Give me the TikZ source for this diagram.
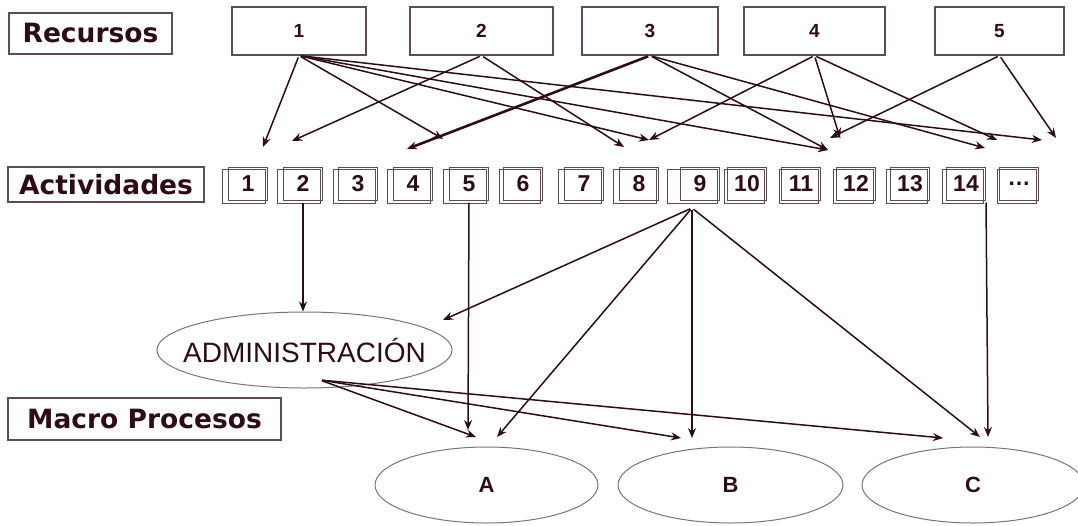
\documentclass[tikz,border=0pt]{standalone}
\usepackage{fontspec}
\setmainfont{Liberation Sans}
\newfontfamily\headfont{DejaVu Sans}
\usetikzlibrary{arrows.meta}
\usetikzlibrary{shapes.geometric}
\definecolor{ink}{RGB}{45,12,24}
\definecolor{frame}{RGB}{95,75,82}
\definecolor{ovalgray}{RGB}{125,115,118}

\begin{document}
\begin{tikzpicture}[x=1pt,y=-1pt,
link/.style={draw=ink,line width=1.5pt,shorten <=2pt,-{Stealth[length=10pt,width=8pt]}},
heavylink/.style={link,line width=2.6pt},
titlebox/.style={draw=frame,line width=1.2pt,inner sep=0pt,text=ink,
  font=\headfont\bfseries\fontsize{26.5}{30}\selectfont},
resbox/.style={draw=frame,line width=1.2pt,inner sep=0pt,minimum height=48pt,text=ink,
  font=\bfseries\fontsize{19}{21}\selectfont},
actbox/.style={draw=frame,line width=1pt,inner sep=0pt,minimum width=39pt,minimum height=33pt,
  text=ink,font=\bfseries\fontsize{23}{25}\selectfont},
procoval/.style={ellipse,draw=ovalgray,line width=1pt,inner sep=0pt,minimum height=76pt,text=ink}]
\useasboundingbox (0,0) rectangle (1078,525);
\clip (0,0) rectangle (1078,525);

% titles
\node[titlebox,minimum width=163pt,minimum height=41pt] (recursos) at (90.5,33.5) {Recursos};
\node[titlebox,minimum width=196pt,minimum height=35pt] (actividades) at (106,184.5) {Actividades};
\node[titlebox,minimum width=273pt,minimum height=42pt] (macro) at (144.5,419) {Macro Procesos};

% resources
\node[resbox,minimum width=134pt] (r1) at (299,31) {1};
\node[resbox,minimum width=143pt] (r2) at (481.5,31) {2};
\node[resbox,minimum width=136pt] (r3) at (650,31) {3};
\node[resbox,minimum width=141pt] (r4) at (814.5,31) {4};
\node[resbox,minimum width=129pt] (r5) at (999.5,31) {5};

% activities
\foreach \lab/\cx/\off [count=\i] in {1/248/6,2/303/6,3/358/5,4/413/6,5/469/6,6/523/4,7/584/6,
  8/639/6,9/700/13,10/747/3,11/801/2,12/856/3,13/910/4,14/966/4,{\ldots}/1019/2}{
  \draw[frame,line width=1pt] (\cx-19.5-\off,169) rectangle (\cx+17.5,203);
  \node[actbox] (a\i) at (\cx,183.5) {\lab};
}

% macro processes
\node[procoval,minimum width=291pt,inner xsep=-17pt,font=\fontsize{28}{32}\selectfont] (adm) at (304.5,350) {ADMINISTRACIÓN};
\node[procoval,minimum width=223pt,font=\bfseries\fontsize{22}{25}\selectfont] (pA) at (486.5,485) {A};
\node[procoval,minimum width=225pt,font=\bfseries\fontsize{22}{25}\selectfont] (pB) at (730.5,485) {B};
\node[procoval,minimum width=222pt,font=\bfseries\fontsize{22}{25}\selectfont] (pC) at (973,485) {C};

% arrow ends
\coordinate (t1) at (263,147);
\coordinate (t2) at (292,141);
\coordinate (t4) at (407,149);
\coordinate (t5) at (443,139);
\coordinate (t8a) at (624,147);
\coordinate (t8b) at (649,140);
\coordinate (t11a) at (828,150);
\coordinate (t11b) at (830,138);
\coordinate (t11c) at (840,138);
\coordinate (t14a) at (985,148);
\coordinate (t14b) at (997,140);
\coordinate (tea) at (1042,140);
\coordinate (teb) at (1056,138);
\coordinate (a9src) at (692,208);
\coordinate (admsrc) at (320,380);
\coordinate (enadm) at (443,320);
\coordinate (enA1) at (468,430);
\coordinate (enA2) at (476,437);
\coordinate (enA3) at (497,437);
\coordinate (enB1) at (681,438);
\coordinate (enB2) at (692,438);
\coordinate (enC1) at (943,438);
\coordinate (enC2) at (980,437);
\coordinate (enC3) at (988,437);

% resources to activities
\draw[link] (r1.south) -- (t1);
\draw[link] (r1.south) -- (t5);
\draw[link] (r1.south) -- (t8b);
\draw[link] (r1.south) -- (t11a);
\draw[link] (r1.south) -- (tea);
\draw[link] (r2.south) -- (t2);
\draw[link] (r2.south) -- (t8a);
\draw[heavylink] (r3.south) -- (t4);
\draw[link] (r3.south) -- (t11a);
\draw[link] (r3.south) -- (t14a);
\draw[link] (r4.south) -- (t8b);
\draw[link] (r4.south) -- (t11c);
\draw[link] (r4.south) -- (t14b);
\draw[link] (r5.south) -- (t11b);
\draw[link] (r5.south) -- (teb);

% activities to processes
\draw[link] (a2.south) -- (a2.south |- adm.north);
\draw[link] (a5.south) -- (enA1);
\draw[link] (a9src) -- (enadm);
\draw[link] (a9src) -- (enA3);
\draw[link] (a9src) -- (enB2);
\draw[link] (a9src) -- (enC2);
\draw[link] (a14.south east) -- (enC3);
\draw[link] (admsrc) -- (enA2);
\draw[link] (admsrc) -- (enB1);
\draw[link] (admsrc) -- (enC1);
\end{tikzpicture}
\end{document}
